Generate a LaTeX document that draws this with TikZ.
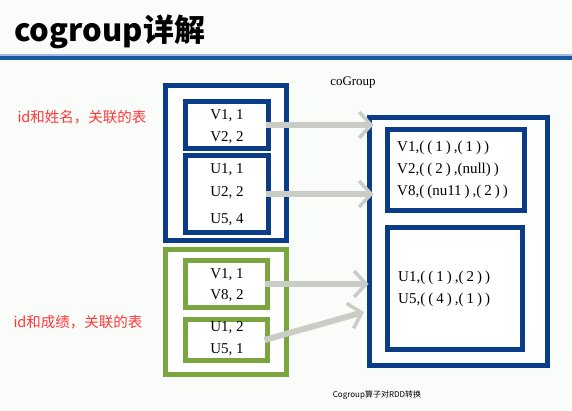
\documentclass[tikz,border=0pt]{standalone}
\usepackage{fontspec}
\setmainfont{Liberation Serif}
\newfontfamily\cjk{Noto Sans CJK SC}
\usetikzlibrary{arrows.meta}
\definecolor{bgc}{HTML}{FAFCFA}
\definecolor{barblue}{HTML}{1A5AA5}
\definecolor{boxblue}{HTML}{0B3C88}
\definecolor{boxgreen}{HTML}{7AA53F}
\definecolor{labred}{HTML}{FF3838}
\definecolor{arrgray}{HTML}{C9CDC5}
\newcommand{\gapsp}{\hspace*{3pt}}
\tikzset{
  bbox/.style={draw=boxblue, line width=5.5pt, fill=white, inner sep=0pt, outer sep=0pt},
  gbox/.style={draw=boxgreen, line width=5.5pt, fill=white, inner sep=0pt, outer sep=0pt},
  entry/.style={font=\fontsize{15}{17}\selectfont, inner sep=0pt},
  rentry/.style={font=\fontsize{15}{17}\selectfont, inner sep=0pt, anchor=west},
  redlab/.style={font=\cjk\fontsize{14.5}{16}\selectfont, text=labred, inner sep=0pt},
  bigarrow/.style={draw=arrgray, line width=6pt, -{Straight Barb[length=12pt,width=26pt,line width=3.5pt]}}
}
\begin{document}
\begin{tikzpicture}[x=1pt,y=-1pt]
\useasboundingbox (0,0) rectangle (572,411);
\fill[bgc] (0,0) rectangle (572,411);
% title and bar
\node[anchor=base west, inner sep=0pt, font=\cjk\bfseries\fontsize{31}{34}\selectfont] (title) at (14,42) {cogroup详解};
\fill[barblue!40] (0,54.5) rectangle (572,56);
\fill[barblue] (0,56.5) rectangle (572,60.5);
% left blue group
\node[bbox, minimum width=121pt, minimum height=155pt] (bout) at (226,163) {};
\node[bbox, minimum width=83pt, minimum height=47pt] (bin1) at (227,125) {};
\node[bbox, minimum width=83pt, minimum height=77pt] (bin2) at (227,194) {};
\node[entry] (t1) at (227,116) {V1, 1};
\node[entry] (t2) at (227,138) {V2, 2};
\node[entry] (t3) at (227,170) {U1, 1};
\node[entry] (t4) at (227,193) {U2, 2};
\node[entry] (t5) at (227,220) {U5, 4};
% left green group
\node[gbox, minimum width=121pt, minimum height=125pt] (gout) at (226,312) {};
\node[gbox, minimum width=82pt, minimum height=47pt] (gin1) at (226.5,284) {};
\node[gbox, minimum width=82pt, minimum height=41pt] (gin2) at (226.5,340) {};
\node[entry] (t6) at (227,275) {V1, 1};
\node[entry] (t7) at (227,296) {V8, 2};
\node[entry] (t8) at (227,328) {U1, 2};
\node[entry] (t9) at (227,350) {U5, 1};
% right group
\node[bbox, minimum width=178pt, minimum height=248pt] (rout) at (458.5,241.5) {};
\node[bbox, minimum width=137pt, minimum height=81pt] (rin1) at (456,170) {};
\node[bbox, minimum width=135pt, minimum height=122pt] (rin2) at (455,288.5) {};
\node[rentry] (r1) at (397,148) {V1,(\gapsp(\gapsp1\gapsp)\gapsp,(\gapsp1\gapsp)\gapsp)};
\node[rentry] (r2) at (397,170) {V2,(\gapsp(\gapsp2\gapsp)\gapsp,(null)\gapsp)};
\node[rentry] (r3) at (397,192) {V8,(\gapsp(nu11\gapsp)\gapsp,(\gapsp2\gapsp)\gapsp)};
\node[rentry] (r4) at (398,278) {U1,(\gapsp(\gapsp1\gapsp)\gapsp,(\gapsp2\gapsp)\gapsp)};
\node[rentry] (r5) at (398,300) {U5,(\gapsp(\gapsp4\gapsp)\gapsp,(\gapsp1\gapsp)\gapsp)};
% labels
\node[font=\fontsize{13}{15}\selectfont, inner sep=0pt] (cg) at (353,83) {coGroup};
\node[font=\cjk\fontsize{8}{9}\selectfont, inner sep=0pt] (cap) at (377,395) {Cogroup算子对RDD转换};
\node[redlab] (l1) at (82,117) {id和姓名，关联的表};
\node[redlab] (l2) at (78,322) {id和成绩，关联的表};
% arrows
\coordinate (a4end) at (364,312);
\draw[bigarrow] ([xshift=-3pt]bin1.east) -- ([xshift=4pt]bin1.east -| rout.west);
\draw[bigarrow] ([xshift=-3pt]bin2.east) -- ([xshift=4pt]bin2.east -| rout.west);
\draw[bigarrow] ([xshift=-3pt]gin1.east) -- ([xshift=-1pt]gin1.east -| rout.west);
\draw[bigarrow] ([xshift=-3pt]gin2.east) -- (a4end);
\end{tikzpicture}
\end{document}
